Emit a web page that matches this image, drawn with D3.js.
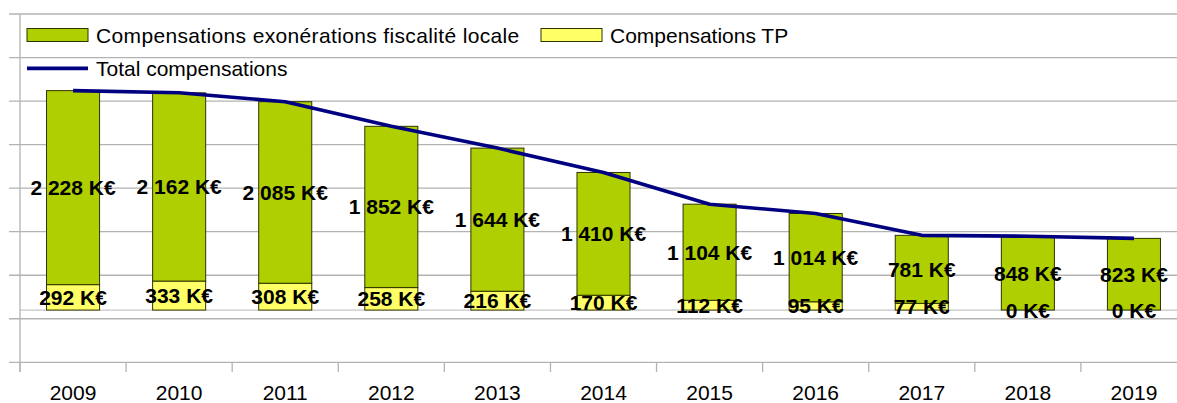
<!DOCTYPE html>
<html>
<head>
<meta charset="utf-8">
<script src="https://cdn.jsdelivr.net/npm/d3@7"></script>
<style>
  html, body { margin: 0; padding: 0; background: #fff; }
  svg { display: block; font-family: "Liberation Sans", Arial, sans-serif; }
</style>
</head>
<body>
<svg id="chart" width="1177" height="403"></svg>
<script>
const years = ['2009', '2010', '2011', '2012', '2013', '2014', '2015', '2016', '2017', '2018', '2019'];
const exonerations = [2228, 2162, 2085, 1852, 1644, 1410, 1104, 1014, 781, 848, 823];
const compensationsTP = [292, 333, 308, 258, 216, 170, 112, 95, 77, 0, 0];
const totals = years.map((_, i) => exonerations[i] + compensationsTP[i]);
const yTicks = d3.range(-600, 3401, 500);

const GREEN = '#b0cf00';
const YELLOW = '#ffff66';
const NAVY = '#000080';
const GRID = '#b3b3b3';
const BORDER = '#2f3300';

const svg = d3.select('#chart');
const fmt = (v) => d3.format(',')(v).replace(/,/g, ' ') + ' K€';

const x = d3.scaleBand().domain(years).range([20, 1187]).paddingInner(0.5).paddingOuter(0.25);
const y = d3.scaleLinear().domain([-600, 3400]).range([362.3, 14]);

// gridlines
svg.append('g')
  .selectAll('line')
  .data(yTicks)
  .join('line')
  .attr('x1', 9).attr('x2', 1177)
  .attr('y1', (d) => y(d)).attr('y2', (d) => y(d))
  .attr('stroke', GRID).attr('stroke-width', 1.3);

// zero line
svg.append('line')
  .attr('x1', 20).attr('x2', 1177)
  .attr('y1', y(0)).attr('y2', y(0))
  .attr('stroke', '#c6c6c6').attr('stroke-width', 1.3);

// vertical axis
svg.append('line')
  .attr('x1', 20).attr('x2', 20)
  .attr('y1', y(3400)).attr('y2', 372)
  .attr('stroke', GRID).attr('stroke-width', 1.3);

// category ticks
const step = x.step();
svg.append('g')
  .selectAll('line')
  .data(d3.range(years.length + 1))
  .join('line')
  .attr('x1', (i) => 20 + i * step).attr('x2', (i) => 20 + i * step)
  .attr('y1', y(-600)).attr('y2', 372)
  .attr('stroke', GRID).attr('stroke-width', 1.3);

// category labels
svg.append('g')
  .selectAll('text')
  .data(years)
  .join('text')
  .attr('x', (d) => x(d) + x.bandwidth() / 2)
  .attr('y', 400)
  .attr('text-anchor', 'middle')
  .attr('font-size', 21)
  .text((d) => d);

// stacked bars
const bars = svg.append('g');
bars.selectAll('rect.tp')
  .data(years)
  .join('rect')
  .attr('class', 'tp')
  .attr('x', (d) => x(d))
  .attr('width', x.bandwidth())
  .attr('y', (d, i) => y(compensationsTP[i]))
  .attr('height', (d, i) => y(0) - y(compensationsTP[i]))
  .attr('fill', YELLOW).attr('stroke', BORDER).attr('stroke-width', 1);

bars.selectAll('rect.exo')
  .data(years)
  .join('rect')
  .attr('class', 'exo')
  .attr('x', (d) => x(d))
  .attr('width', x.bandwidth())
  .attr('y', (d, i) => y(totals[i]))
  .attr('height', (d, i) => y(compensationsTP[i]) - y(totals[i]))
  .attr('fill', GREEN).attr('stroke', BORDER).attr('stroke-width', 1);

// total line
const line = d3.line()
  .x((d, i) => x(years[i]) + x.bandwidth() / 2)
  .y((d) => y(d));
svg.append('path')
  .datum(totals)
  .attr('d', line)
  .attr('fill', 'none')
  .attr('stroke', NAVY)
  .attr('stroke-width', 3.6)
  .attr('stroke-linejoin', 'round');

// value labels
const labels = svg.append('g')
  .attr('font-size', 21)
  .attr('font-weight', 'bold')
  .attr('text-anchor', 'middle')
  .attr('dominant-baseline', 'central');

labels.selectAll('text.exo')
  .data(years)
  .join('text')
  .attr('x', (d) => x(d) + x.bandwidth() / 2)
  .attr('y', (d, i) => (y(totals[i]) + y(compensationsTP[i])) / 2)
  .text((d, i) => fmt(exonerations[i]));

labels.selectAll('text.tp')
  .data(years)
  .join('text')
  .attr('x', (d) => x(d) + x.bandwidth() / 2)
  .attr('y', (d, i) => (y(compensationsTP[i]) + y(0)) / 2)
  .text((d, i) => fmt(compensationsTP[i]));

// legend
const legend = svg.append('g').attr('font-size', 21);
const legendItems = [
  { label: 'Compensations exonérations fiscalité locale', fill: GREEN, x: 27, y: 35, spacing: 0.35 },
  { label: 'Compensations TP', fill: YELLOW, x: 541, y: 35, spacing: 0 },
];
for (const item of legendItems) {
  legend.append('rect')
    .attr('x', item.x).attr('y', item.y - 6.5)
    .attr('width', 61).attr('height', 13)
    .attr('fill', item.fill).attr('stroke', BORDER).attr('stroke-width', 1);
  legend.append('text')
    .attr('x', item.x + 69).attr('y', item.y)
    .attr('dominant-baseline', 'central')
    .attr('letter-spacing', item.spacing)
    .text(item.label);
}
legend.append('line')
  .attr('x1', 27).attr('x2', 88)
  .attr('y1', 68.3).attr('y2', 68.3)
  .attr('stroke', NAVY).attr('stroke-width', 3.8);
legend.append('text')
  .attr('x', 96).attr('y', 68)
  .attr('dominant-baseline', 'central')
  .text('Total compensations');
</script>
</body>
</html>
